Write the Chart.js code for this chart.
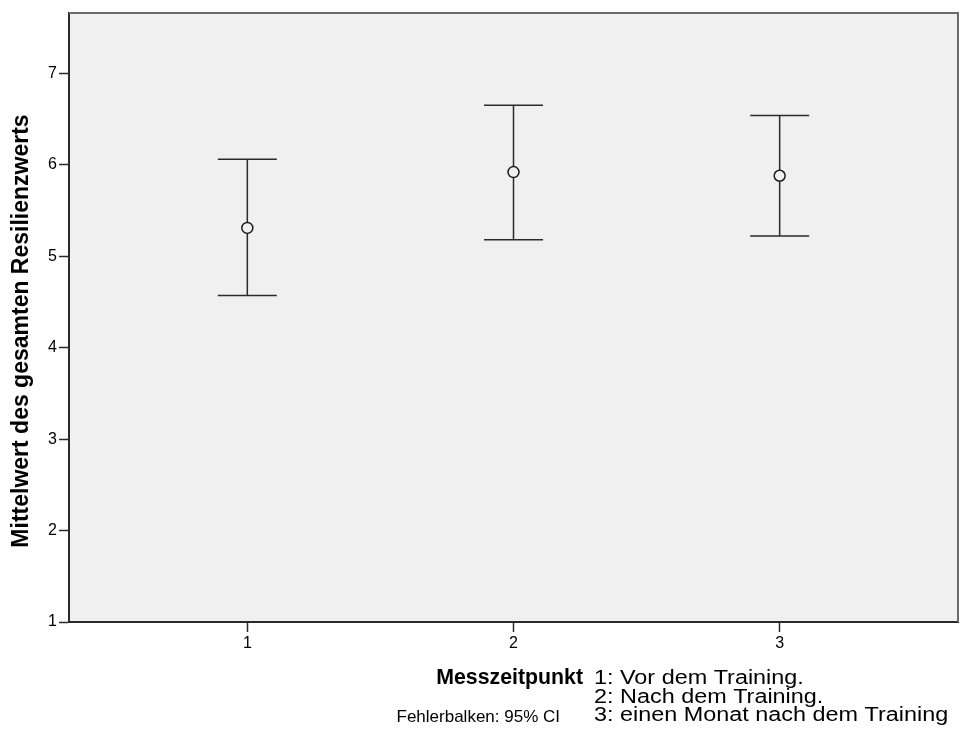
<!DOCTYPE html>
<html>
<head>
<meta charset="utf-8">
<script src="https://cdn.jsdelivr.net/npm/chart.js@4/dist/chart.umd.min.js"></script>
<style>
  html, body { margin: 0; padding: 0; background: #ffffff; }
  #wrap { width: 968px; height: 735px; position: relative; }
</style>
</head>
<body>
<div id="wrap"><canvas id="c" width="968" height="735"></canvas></div>
<script>
// ---- data ----
const categories = [1, 2, 3];
const xTickLabels = ['1', '2', '3'];
const means = [5.31, 5.92, 5.88];
const ciLower = [4.57, 5.18, 5.22];
const ciUpper = [6.06, 6.65, 6.54];
const yTicks = [1, 2, 3, 4, 5, 6, 7];
const yTitle = 'Mittelwert des gesamten Resilienzwerts';
const xTitle = 'Messzeitpunkt';
const legendLines = ['1: Vor dem Training.', '2: Nach dem Training.', '3: einen Monat nach dem Training'];
const footNote = 'Fehlerbalken: 95% CI';

const FONT = '"Liberation Sans", Arial, sans-serif';

const spssPlugin = {
  id: 'spss',
  beforeDraw(chart) {
    const { ctx, chartArea: a } = chart;
    ctx.save();
    ctx.fillStyle = '#f0f0f0';
    ctx.fillRect(a.left, a.top, a.right - a.left, a.bottom - a.top);
    ctx.restore();
  },
  beforeDatasetsDraw(chart) {
    const { ctx } = chart;
    const xs = chart.scales.x, ys = chart.scales.y;
    const capHalf = 29.5;
    ctx.save();
    ctx.strokeStyle = '#2a2a2a';
    ctx.lineWidth = 1.5;
    categories.forEach((c, i) => {
      const px = xs.getPixelForValue(c);
      const pTop = ys.getPixelForValue(ciUpper[i]);
      const pBot = ys.getPixelForValue(ciLower[i]);
      ctx.beginPath();
      ctx.moveTo(px, pTop); ctx.lineTo(px, pBot);
      ctx.moveTo(px - capHalf, pTop); ctx.lineTo(px + capHalf, pTop);
      ctx.moveTo(px - capHalf, pBot); ctx.lineTo(px + capHalf, pBot);
      ctx.stroke();
    });
    ctx.restore();
  },
  afterDraw(chart) {
    const { ctx, chartArea: a } = chart;
    ctx.save();
    // top & right frame
    ctx.strokeStyle = '#6a6a6a';
    ctx.lineWidth = 2;
    ctx.beginPath();
    ctx.moveTo(a.left, a.top); ctx.lineTo(a.right, a.top); ctx.lineTo(a.right, a.bottom);
    ctx.stroke();
    // y title
    ctx.fillStyle = '#000';
    ctx.font = 'bold 23px ' + FONT;
    ctx.translate(28, 331);
    ctx.rotate(-Math.PI / 2);
    ctx.textAlign = 'center';
    ctx.textBaseline = 'alphabetic';
    ctx.fillText(yTitle, 0, 0);
    ctx.restore();

    ctx.save();
    ctx.fillStyle = '#000';
    ctx.textBaseline = 'alphabetic';
    ctx.font = 'bold 21.3px ' + FONT;
    ctx.textAlign = 'right';
    ctx.fillText(xTitle, 583, 684);
    ctx.font = '17px ' + FONT;
    ctx.fillText(footNote, 560, 722);
    ctx.restore();

    ctx.save();
    ctx.fillStyle = '#000';
    ctx.textBaseline = 'alphabetic';
    ctx.textAlign = 'left';
    ctx.font = '19.5px ' + FONT;
    ctx.translate(594, 0);
    ctx.scale(1.2, 1);
    legendLines.forEach((t, i) => ctx.fillText(t, 0, 684 + i * 18.5));
    ctx.restore();
  }
};

new Chart(document.getElementById('c'), {
  type: 'scatter',
  data: {
    datasets: [{
      data: categories.map((c, i) => ({ x: c, y: means[i] })),
      pointStyle: 'circle',
      pointRadius: 5.5,
      pointHoverRadius: 5.5,
      borderColor: '#1a1a1a',
      backgroundColor: '#f0f0f0',
      borderWidth: 1.5
    }]
  },
  options: {
    responsive: false,
    animation: false,
    events: [],
    layout: { padding: { top: 13, right: 10, left: 0, bottom: 0 } },
    plugins: { legend: { display: false }, tooltip: { enabled: false } },
    scales: {
      x: {
        type: 'linear',
        min: 0.33,
        max: 3.67,
        afterBuildTicks: s => { s.ticks = categories.map(v => ({ value: v })); },
        afterFit: s => { s.height = 735 - 622; },
        ticks: {
          autoSkip: false, maxRotation: 0,
          callback: v => xTickLabels[categories.indexOf(v)],
          font: { family: FONT, size: 16 }, color: '#000', padding: 2
        },
        grid: { drawOnChartArea: false, drawTicks: true, tickLength: 10, tickColor: '#2a2a2a', tickWidth: 1.5 },
        border: { display: true, color: '#2a2a2a', width: 2 }
      },
      y: {
        type: 'linear',
        min: 1,
        max: 7.66,
        afterBuildTicks: s => { s.ticks = yTicks.map(v => ({ value: v })); },
        afterFit: s => { s.width = 69; },
        ticks: {
          autoSkip: false,
          font: { family: FONT, size: 16 }, color: '#000', padding: 2
        },
        grid: { drawOnChartArea: false, drawTicks: true, tickLength: 10, tickColor: '#2a2a2a', tickWidth: 1.5 },
        border: { display: true, color: '#2a2a2a', width: 2 }
      }
    }
  },
  plugins: [spssPlugin]
});
</script>
</body>
</html>
